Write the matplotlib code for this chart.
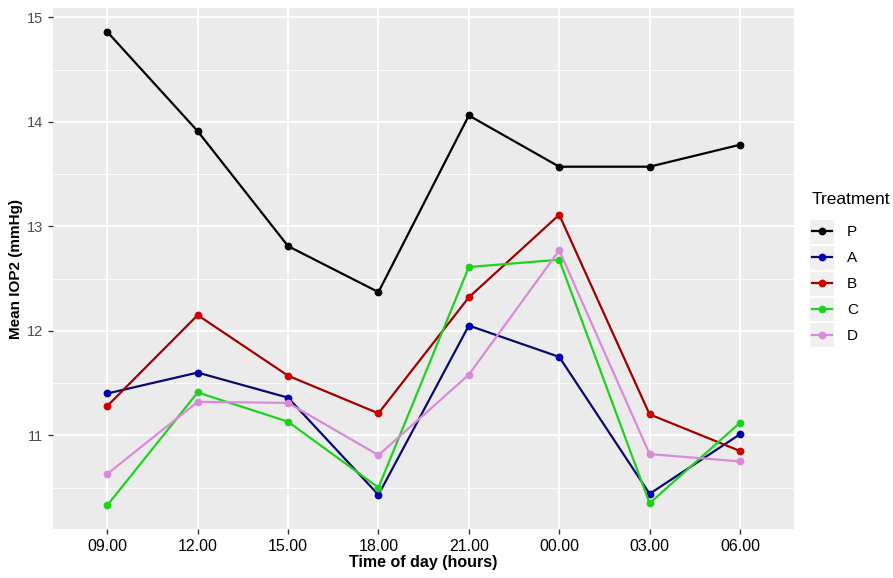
import numpy as np
import matplotlib
matplotlib.use("Agg")
import matplotlib.pyplot as plt
from matplotlib.patches import Rectangle

# data
times = ["09.00", "12.00", "15.00", "18.00", "21.00", "00.00", "03.00", "06.00"]
treatments = ["P", "A", "B", "C", "D"]
P = [14.86, 13.91, 12.81, 12.37, 14.06, 13.57, 13.57, 13.78]
A = [11.40, 11.60, 11.36, 10.43, 12.05, 11.75, 10.44, 11.01]
B = [11.28, 12.15, 11.57, 11.21, 12.32, 13.11, 11.20, 10.85]
C = [10.33, 11.41, 11.13, 10.50, 12.61, 12.68, 10.35, 11.12]
D = [10.63, 11.32, 11.31, 10.81, 11.58, 12.77, 10.82, 10.75]
series = [P, A, B, C, D]
line_colors = ["#000000", "#0A0A6E", "#A00000", "#1FD21F", "#D98BD9"]
point_colors = ["#000000", "#0000B0", "#D00000", "#1FD21F", "#D98BD9"]

plt.rcParams['font.family'] = ['Liberation Sans', 'DejaVu Sans']

fig = plt.figure(figsize=(8.93, 5.78), dpi=100)
ax = fig.add_axes([0.0594, 0.0848, 0.830, 0.901])
ax.set_facecolor("#EBEBEB")

x = np.arange(len(times))
for name, vals, lc, pc in zip(treatments, series, line_colors, point_colors):
    ax.plot(x, vals, color=lc, lw=1.6, marker="o", ms=4.6, mfc=pc, mec=pc, label=name,
            solid_joinstyle="round")

allv = np.concatenate([np.array(s) for s in series])
span = allv.max() - allv.min()
ax.set_ylim(allv.min() - 0.05 * span, allv.max() + 0.05 * span)
ax.set_xlim(-0.6, len(times) - 0.4)

ax.set_xticks(x)
ax.set_xticklabels(times, fontsize=11.5, color="black")
ax.set_yticks([11, 12, 13, 14, 15])
ax.set_yticks([10.5, 11.5, 12.5, 13.5, 14.5], minor=True)
ax.tick_params(axis="y", labelsize=10.5, labelcolor="#4D4D4D")
ax.tick_params(which="major", length=3.5, color="#333333", width=1.0)
ax.tick_params(axis="y", which="minor", length=0)
ax.grid(which="major", color="white", lw=1.3)
ax.grid(which="minor", axis="y", color="white", lw=0.6)
ax.set_axisbelow(True)
for s in ax.spines.values():
    s.set_visible(False)

ax.set_xlabel("Time of day (hours)", fontsize=11.5, fontweight="bold", labelpad=1)
ax.set_ylabel("Mean IOP2 (mmHg)", fontsize=11, fontweight="bold", labelpad=3)

leg = ax.legend(title="Treatment", loc="upper left", bbox_to_anchor=(0.9025, 0.678),
                bbox_transform=fig.transFigure, frameon=False, fontsize=11,
                title_fontsize=12.5, handlelength=1.3, handletextpad=1.0,
                labelspacing=0.78, borderaxespad=0)
leg._legend_box.align = "left"
leg._legend_box.sep = 13

# gray key background like ggplot
fig.canvas.draw()
hb = [h.get_window_extent() for h in leg.legend_handles]
tb = [t.get_window_extent() for t in leg.get_texts()]
xc = (hb[0].x0 + hb[0].x1) / 2
x0, x1 = xc - 12, xc + 12
step = (tb[0].y0 - tb[-1].y0) / (len(tb) - 1)
ytop = tb[0].y0 + (tb[0].height + step) / 2 + 0.5
W, H = fig.bbox.width, fig.bbox.height
for i in range(len(tb)):
    yy = ytop - (i + 1) * step
    fig.patches.append(Rectangle((x0 / W, (yy + 1) / H), (x1 - x0) / W, (step - 2) / H,
                                 transform=fig.transFigure, facecolor="#F0F0F0",
                                 edgecolor="none", zorder=-1))

fig.savefig("out.png", dpi=100)
